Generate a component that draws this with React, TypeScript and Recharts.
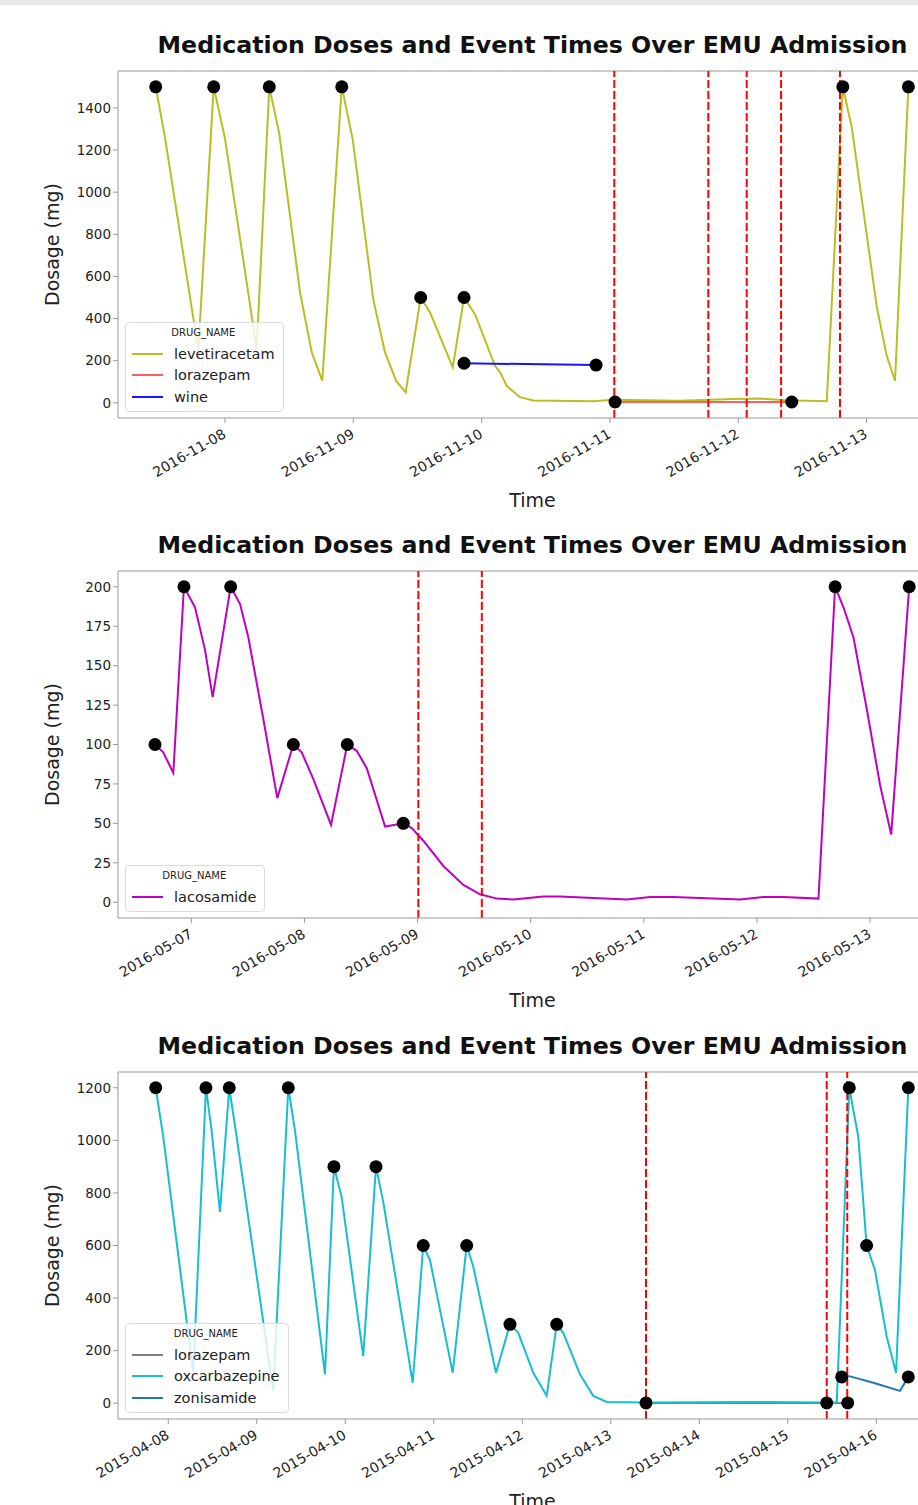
import React from "react";
import { ComposedChart, Line, Scatter, XAxis, YAxis, ReferenceLine, Label } from "recharts";

// admission A: x = days after 2016-11-07 00:00
const ticksA = [1, 2, 3, 4, 5, 6];
const labelsA = ["2016-11-08", "2016-11-09", "2016-11-10", "2016-11-11", "2016-11-12", "2016-11-13"];
const levetiracetamA = [
  [0.46, 1500], [0.532, 1260], [0.792, 250], [0.912, 1500], [1.0, 1254], [1.247, 255],
  [1.345, 1500], [1.423, 1278], [1.585, 523], [1.676, 240], [1.758, 105], [1.91, 1500],
  [1.995, 1252], [2.156, 490], [2.247, 239], [2.333, 105], [2.408, 50], [2.525, 500],
  [2.598, 429], [2.775, 168], [2.863, 500], [2.949, 420], [3.104, 176], [3.143, 146],
  [3.196, 80], [3.299, 27], [3.401, 11], [3.868, 8], [4.024, 15], [4.546, 10], [4.96, 18],
  [5.17, 20], [5.38, 12], [5.69, 8], [5.815, 1500], [5.885, 1307], [6.079, 459],
  [6.157, 223], [6.222, 105], [6.326, 1500],
];
const lorazepamA = [[4.04, 4], [5.417, 4]];
const wineA = [[2.863, 188], [3.892, 179]];
const dosesA = [
  [0.46, 1500], [0.912, 1500], [1.345, 1500], [1.91, 1500], [2.525, 500], [2.863, 500],
  [5.815, 1500], [6.326, 1500], [2.863, 188], [3.892, 179], [4.04, 4], [5.417, 4],
];
const eventsA = [4.034, 4.767, 5.066, 5.334, 5.793];

// admission B: x = days after 2016-05-06 00:00
const ticksB = [1, 2, 3, 4, 5, 6, 7];
const labelsB = ["2016-05-07", "2016-05-08", "2016-05-09", "2016-05-10", "2016-05-11", "2016-05-12", "2016-05-13"];
const lacosamideB = [
  [0.679, 100], [0.752, 95], [0.841, 82], [0.935, 200], [1.033, 187], [1.121, 160],
  [1.189, 130], [1.348, 200], [1.431, 189], [1.504, 168], [1.637, 116], [1.76, 66],
  [1.902, 100], [1.976, 95], [2.079, 78], [2.235, 49], [2.379, 100], [2.462, 96],
  [2.551, 85], [2.713, 48], [2.874, 50], [2.949, 47], [3.051, 39], [3.228, 23],
  [3.405, 11], [3.553, 5], [3.7, 2.3], [3.847, 1.7], [4.112, 3.7], [4.26, 3.7],
  [4.85, 1.7], [5.056, 3.3], [5.262, 3.3], [5.851, 1.7], [6.057, 3.3], [6.234, 3.3],
  [6.544, 2.3], [6.691, 200], [6.765, 187], [6.853, 168], [6.972, 122], [7.089, 74],
  [7.187, 43], [7.346, 200],
];
const dosesB = [[0.679, 100], [0.935, 200], [1.348, 200], [1.902, 100], [2.379, 100], [2.874, 50], [6.691, 200], [7.346, 200]];
const eventsB = [3.007, 3.568];

// admission C: x = days after 2015-04-07 00:00
const ticksC = [1, 2, 3, 4, 5, 6, 7, 8, 9];
const labelsC = ["2015-04-08", "2015-04-09", "2015-04-10", "2015-04-11", "2015-04-12", "2015-04-13", "2015-04-14", "2015-04-15", "2015-04-16"];
const lorazepamC = [[6.398, 1], [8.44, 1], [8.677, 1]];
const oxcarbazepineC = [
  [0.858, 1200], [0.944, 1012], [1.282, 116], [1.426, 1200], [1.49, 1037], [1.584, 728],
  [1.689, 1200], [1.773, 1012], [2.186, 47], [2.356, 1200], [2.432, 1037], [2.771, 110],
  [2.872, 900], [2.959, 785], [3.203, 179], [3.347, 900], [3.429, 766], [3.762, 78],
  [3.881, 600], [3.957, 545], [4.214, 116], [4.372, 600], [4.446, 520], [4.703, 116],
  [4.861, 300], [4.955, 268], [5.124, 116], [5.276, 28], [5.389, 300], [5.463, 268],
  [5.652, 110], [5.802, 28], [5.954, 5], [6.398, 3], [7.008, 4], [7.686, 5], [8.44, 3],
  [8.553, 3], [8.695, 1200], [8.797, 1012], [8.891, 600], [8.985, 507], [9.117, 255],
  [9.223, 116], [9.362, 1200],
];
const zonisamideC = [[8.609, 100], [8.695, 103], [8.966, 78], [9.268, 47], [9.362, 100]];
const dosesC = [
  [0.858, 1200], [1.426, 1200], [1.689, 1200], [2.356, 1200], [2.872, 900], [3.347, 900],
  [3.881, 600], [4.372, 600], [4.861, 300], [5.389, 300], [8.695, 1200], [8.891, 600],
  [9.362, 1200], [6.398, 1], [8.44, 1], [8.677, 1], [8.609, 100], [9.362, 100],
];
const eventsC = [6.398, 8.44, 8.672];

const FONT = "DejaVu Sans, sans-serif";
const W = 960;
const H = 520;
const LEFT = 118;
const TOP = 71;
const PW = 829;
const PH = 347;

const pts = (a: number[][]) => a.map(([x, y]) => ({ x, y }));

type Series = { name: string; color: string; data: number[][] };

const charts = [
  {
    top: 0,
    xDomain: [0.166, 6.627],
    ticks: ticksA,
    labels: labelsA,
    yDomain: [-72, 1575],
    yTicks: [0, 200, 400, 600, 800, 1000, 1200, 1400],
    series: [
      { name: "levetiracetam", color: "#bcbd22", data: levetiracetamA },
      { name: "lorazepam", color: "#f06464", data: lorazepamA },
      { name: "wine", color: "#1414ff", data: wineA },
    ] as Series[],
    doses: dosesA,
    events: eventsA,
  },
  {
    top: 500,
    xDomain: [0.352, 7.68],
    ticks: ticksB,
    labels: labelsB,
    yDomain: [-10, 210],
    yTicks: [0, 25, 50, 75, 100, 125, 150, 175, 200],
    series: [{ name: "lacosamide", color: "#c000c0", data: lacosamideB }] as Series[],
    doses: dosesB,
    events: eventsB,
  },
  {
    top: 1001,
    xDomain: [0.432, 9.799],
    ticks: ticksC,
    labels: labelsC,
    yDomain: [-60, 1260],
    yTicks: [0, 200, 400, 600, 800, 1000, 1200],
    series: [
      { name: "lorazepam", color: "#7f7f7f", data: lorazepamC },
      { name: "oxcarbazepine", color: "#17becf", data: oxcarbazepineC },
      { name: "zonisamide", color: "#1f77b4", data: zonisamideC },
    ] as Series[],
    doses: dosesC,
    events: eventsC,
  },
];

const DateTick = (props: any) => {
  const { x, y, payload, ticks, labels } = props;
  const label = labels[ticks.indexOf(payload.value)];
  return (
    <g transform={`translate(${x - 3},${y + 3})`}>
      <text textAnchor="end" transform="rotate(-30)" dy="0.72em" fontSize={14} fill="#222" fontFamily={FONT}>
        {label}
      </text>
    </g>
  );
};

const Dot = (props: any) => <circle cx={props.cx} cy={props.cy} r={6.5} fill="#000" />;

const DoseLegend = ({ series }: { series: Series[] }) => (
  <div
    style={{
      position: "absolute",
      left: 125,
      bottom: H - 412,
      padding: "0 8px 3px 6px",
      border: "1px solid #dcdcdc",
      borderRadius: 4,
      background: "rgba(255,255,255,0.8)",
      fontFamily: FONT,
      color: "#222",
    }}
  >
    <div style={{ fontSize: 10, textAlign: "center", height: 20, lineHeight: "20px" }}>DRUG_NAME</div>
    {series.map((s) => (
      <div key={s.name} style={{ display: "flex", alignItems: "center", height: 21.7 }}>
        <div style={{ width: 31, height: 2, background: s.color, marginRight: 11 }} />
        <span style={{ fontSize: 14.5 }}>{s.name}</span>
      </div>
    ))}
  </div>
);

const DoseChart = ({ c }: { c: (typeof charts)[number] }) => (
  <div style={{ position: "absolute", left: 0, top: c.top, width: W, height: H }}>
    <div
      style={{
        position: "absolute",
        left: LEFT,
        width: PW,
        top: 30,
        textAlign: "center",
        fontFamily: FONT,
        fontWeight: "bold",
        fontSize: 23.7,
        lineHeight: "30px",
        whiteSpace: "nowrap",
        color: "#111",
      }}
    >
      Medication Doses and Event Times Over EMU Admission
    </div>
    <ComposedChart width={W} height={H} margin={{ top: TOP, right: W - LEFT - PW, bottom: 2, left: 48 }}>
      <XAxis
        dataKey="x"
        type="number"
        domain={c.xDomain}
        allowDataOverflow
        ticks={c.ticks}
        interval={0}
        height={100}
        stroke="#999"
        tickSize={5}
        tickMargin={2}
        tick={(p: any) => <DateTick {...p} ticks={c.ticks} labels={c.labels} />}
      >
        <Label
          content={() => (
            <text x={LEFT + PW / 2} y={507} textAnchor="middle" fontSize={19} fill="#222" fontFamily={FONT}>
              Time
            </text>
          )}
        />
      </XAxis>
      <YAxis
        dataKey="y"
        type="number"
        domain={c.yDomain}
        allowDataOverflow
        ticks={c.yTicks}
        interval={0}
        width={70}
        stroke="#999"
        tickSize={5}
        tickMargin={2}
        tick={{ fill: "#222", fontSize: 13.5, fontFamily: FONT }}
      >
        <Label
          content={() => (
            <text
              x={52}
              y={TOP + PH / 2}
              transform={`rotate(-90, 52, ${TOP + PH / 2})`}
              textAnchor="middle"
              dominantBaseline="central"
              fontSize={19}
              fill="#222"
              fontFamily={FONT}
            >
              Dosage (mg)
            </text>
          )}
        />
      </YAxis>
      <ReferenceLine y={c.yDomain[1]} stroke="#999" strokeWidth={1} />
      {c.series.map((s) => (
        <Line
          key={s.name}
          name={s.name}
          data={pts(s.data)}
          dataKey="y"
          type="linear"
          stroke={s.color}
          strokeWidth={2}
          dot={false}
          isAnimationActive={false}
        />
      ))}
      <Scatter data={pts(c.doses)} fill="#000" shape={<Dot />} isAnimationActive={false} />
      {c.events.map((e) => (
        <ReferenceLine key={e} x={e} stroke="#ff0000" strokeWidth={2} strokeDasharray="8 3" />
      ))}
    </ComposedChart>
    <DoseLegend series={c.series} />
  </div>
);

export default function App() {
  return (
    <div style={{ position: "relative", width: 918, height: 1505, overflow: "hidden", background: "#fff" }}>
      <style>{"body{margin:0}"}</style>
      <div style={{ position: "absolute", top: 0, left: 0, width: 918, height: 5, background: "#e8e8e8" }} />
      {charts.map((c, i) => (
        <DoseChart key={i} c={c} />
      ))}
    </div>
  );
}
